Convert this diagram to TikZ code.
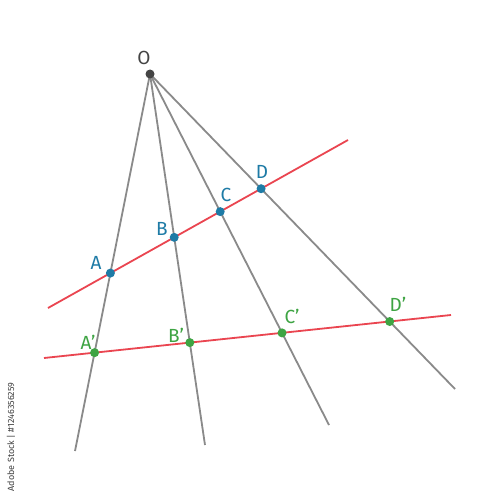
\documentclass[tikz,border=0pt]{standalone}
\usepackage{fontspec}
\setmainfont{Fira Sans}
\begin{document}
\begin{tikzpicture}[x=1pt,y=-1pt,
  ray/.style={draw=rayc,line width=1.8pt},
  redline/.style={draw=redc,line width=1.8pt},
  bdot/.style={circle,fill=bluec,inner sep=0pt,minimum size=9pt},
  gdot/.style={circle,fill=greenc,inner sep=0pt,minimum size=9pt},
  lab/.style={font=\fontsize{19}{19}\selectfont},
  blab/.style={lab,text=bluec},
  glab/.style={lab,text=greenc},
]
\definecolor{rayc}{HTML}{8A8A8A}
\definecolor{redc}{HTML}{EA4550}
\definecolor{bluec}{HTML}{1E7BA6}
\definecolor{greenc}{HTML}{3EA443}
\definecolor{odark}{HTML}{444444}
\useasboundingbox[fill=white] (0,0) rectangle (500,500);
% endpoints
\coordinate (O) at (150,74);
\coordinate (E1) at (75,451);
\coordinate (E2) at (205,445);
\coordinate (E3) at (329,425);
\coordinate (E4) at (455,389);
\coordinate (R1a) at (48,308);
\coordinate (R1b) at (348,140);
\coordinate (R2a) at (44,358);
\coordinate (R2b) at (451,315);
% rays
\draw[ray] (O) -- (E1);
\draw[ray] (O) -- (E2);
\draw[ray] (O) -- (E3);
\draw[ray] (O) -- (E4);
% red lines
\draw[redline] (R1a) -- (R1b);
\draw[redline] (R2a) -- (R2b);
% points
\node[bdot] (A) at (intersection of O--E1 and R1a--R1b) {};
\node[bdot] (B) at (intersection of O--E2 and R1a--R1b) {};
\node[bdot] (C) at (intersection of O--E3 and R1a--R1b) {};
\node[bdot] (D) at (intersection of O--E4 and R1a--R1b) {};
\node[gdot] (A2) at (intersection of O--E1 and R2a--R2b) {};
\node[gdot] (B2) at (intersection of O--E2 and R2a--R2b) {};
\node[gdot] (C2) at (intersection of O--E3 and R2a--R2b) {};
\node[gdot] (D2) at (intersection of O--E4 and R2a--R2b) {};
\node[circle,fill=odark,inner sep=0pt,minimum size=9pt] (Od) at (O) {};
% labels
\node[lab,text=odark] (Ol) at (144,58) {O};
\node[blab] (Al) at (96,263) {A};
\node[blab] (Bl) at (162,229) {B};
\node[blab] (Cl) at (226,195) {C};
\node[blab] (Dl) at (262,172) {D};
\node[glab] (A2l) at (88,342) {A’};
\node[glab] (B2l) at (176,335) {B’};
\node[glab] (C2l) at (292,316) {C’};
\node[glab] (D2l) at (398,304) {D’};
% side text
\node[rotate=90,text=black!75,font=\fontsize{9}{9}\selectfont] (wm) at (11,437) {Adobe Stock | \#1246356259};
\end{tikzpicture}
\end{document}
